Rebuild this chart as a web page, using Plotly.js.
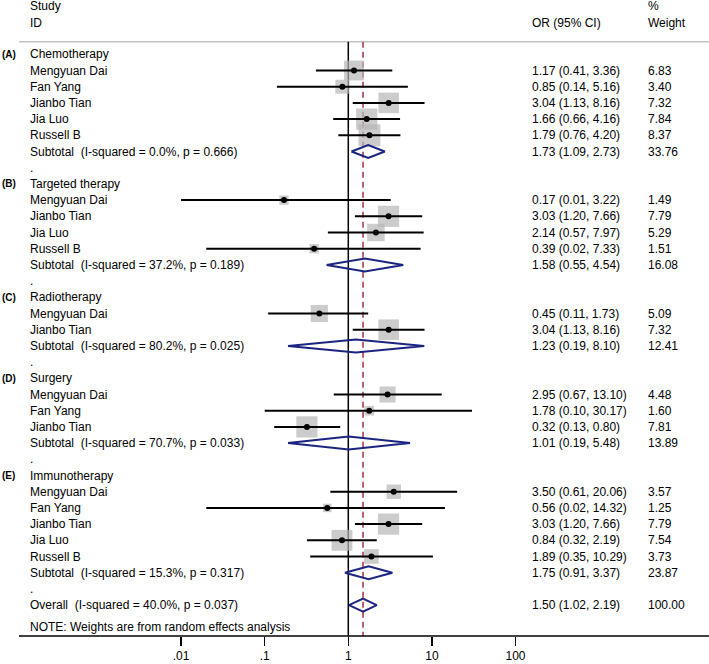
<!DOCTYPE html>
<html>
<head>
<meta charset="utf-8">
<script src="https://cdn.plot.ly/plotly-3.0.1.min.js"></script>
<style>
  html, body { margin: 0; padding: 0; background: #fff; }
  #forest { width: 709px; height: 664px; }
</style>
</head>
<body>
<div id="forest"></div>
<script>
// subgroups
const groupNames = ['Chemotherapy', 'Targeted therapy', 'Radiotherapy', 'Surgery', 'Immunotherapy'];
const groupTags = ['(A)', '(B)', '(C)', '(D)', '(E)'];

// individual studies (group index, name, OR, CI, % weight)
const studyGroup = [0, 0, 0, 0, 0, 1, 1, 1, 1, 2, 2, 3, 3, 3, 4, 4, 4, 4, 4];
const studyNames = ['Mengyuan Dai', 'Fan Yang', 'Jianbo Tian', 'Jia Luo', 'Russell B',
  'Mengyuan Dai', 'Jianbo Tian', 'Jia Luo', 'Russell B',
  'Mengyuan Dai', 'Jianbo Tian',
  'Mengyuan Dai', 'Fan Yang', 'Jianbo Tian',
  'Mengyuan Dai', 'Fan Yang', 'Jianbo Tian', 'Jia Luo', 'Russell B'];
const studyOR = [1.17, 0.85, 3.04, 1.66, 1.79, 0.17, 3.03, 2.14, 0.39, 0.45, 3.04, 2.95, 1.78, 0.32, 3.50, 0.56, 3.03, 0.84, 1.89];
const studyLo = [0.41, 0.14, 1.13, 0.66, 0.76, 0.01, 1.20, 0.57, 0.02, 0.11, 1.13, 0.67, 0.10, 0.13, 0.61, 0.02, 1.20, 0.32, 0.35];
const studyHi = [3.36, 5.16, 8.16, 4.16, 4.20, 3.22, 7.66, 7.97, 7.33, 1.73, 8.16, 13.10, 30.17, 0.80, 20.06, 14.32, 7.66, 2.19, 10.29];
const studyWt = [6.83, 3.40, 7.32, 7.84, 8.37, 1.49, 7.79, 5.29, 1.51, 5.09, 7.32, 4.48, 1.60, 7.81, 3.57, 1.25, 7.79, 7.54, 3.73];

// subtotals
const subOR = [1.73, 1.58, 1.23, 1.01, 1.75];
const subLo = [1.09, 0.55, 0.19, 0.19, 0.91];
const subHi = [2.73, 4.54, 8.10, 5.48, 3.37];
const subWt = [33.76, 16.08, 12.41, 13.89, 23.87];
const subI2 = ['0.0', '37.2', '80.2', '70.7', '15.3'];
const subP = ['0.666', '0.189', '0.025', '0.033', '0.317'];

// overall
const overallOR = 1.50;
const overallCI = [1.02, 2.19];
const overallWt = 100.00;
const overallI2 = '40.0';
const overallP = '0.037';

const tickVals = [0.01, 0.1, 1, 10, 100];
const tickText = ['.01', '.1', '1', '10', '100'];

// ---- layout geometry (pixels) ----
const W = 709, H = 664;
const rowTop = 54.3, rowStep = 16.2;
const axisPx = 636;
const onePx = 348.3, decadePx = 83.6;
const pxToRow = (px) => (px - rowTop) / rowStep;
const xp = (px) => px / W;

const FONT = 'Liberation Sans, Arial, sans-serif';

// ---- assign rows ----
const headerRow = [], subRow = [], dotRow = [], studyRow = [];
let row = 0;
groupNames.forEach((g, gi) => {
  headerRow[gi] = row++;
  studyGroup.forEach((sg, si) => { if (sg === gi) studyRow[si] = row++; });
  subRow[gi] = row++;
  dotRow[gi] = row++;
});
const overallRow = row++;

const fmt = (o, l, h) => `${o.toFixed(2)} (${l.toFixed(2)}, ${h.toFixed(2)})`;

// ---- annotations ----
const ann = [];
function txt(px, r, s, opts) {
  ann.push(Object.assign({
    xref: 'paper', yref: 'y', x: xp(px), y: r, text: s,
    xanchor: 'left', yanchor: 'middle', showarrow: false,
    font: { family: FONT, size: 12, color: '#000' }, borderpad: 0
  }, opts || {}));
}
const colName = 29, colOR = 531, colWt = 647, colTag = 1;

txt(colName, pxToRow(6), 'Study');
txt(colName, pxToRow(23), 'ID');
txt(colOR, pxToRow(23), 'OR (95% CI)');
txt(colWt, pxToRow(6), '%');
txt(colWt, pxToRow(23), 'Weight');

groupNames.forEach((g, gi) => {
  txt(colTag, headerRow[gi], '<b>' + groupTags[gi] + '</b>', { font: { family: FONT, size: 10, color: '#000' } });
  txt(colName, headerRow[gi], g);
  txt(colName, subRow[gi], `Subtotal\u00a0 (I-squared = ${subI2[gi]}%, p = ${subP[gi]})`);
  txt(colOR, subRow[gi], fmt(subOR[gi], subLo[gi], subHi[gi]));
  txt(colWt, subRow[gi], subWt[gi].toFixed(2));
  txt(colName, dotRow[gi], '.');
});
studyNames.forEach((n, i) => {
  txt(colName, studyRow[i], n);
  txt(colOR, studyRow[i], fmt(studyOR[i], studyLo[i], studyHi[i]));
  txt(colWt, studyRow[i], studyWt[i].toFixed(2));
});
txt(colName, overallRow, `Overall\u00a0 (I-squared = ${overallI2}%, p = ${overallP})`);
txt(colOR, overallRow, fmt(overallOR, overallCI[0], overallCI[1]));
txt(colWt, overallRow, overallWt.toFixed(2));
txt(colName, pxToRow(627), 'NOTE: Weights are from random effects analysis');

// ---- traces ----
const boxes = {
  x: studyOR, y: studyRow, type: 'scatter', mode: 'markers',
  marker: { symbol: 'square', size: studyWt.map(w => 7.6 * Math.sqrt(w)), color: '#b7b7b7', line: { width: 0 } }
};
const ciX = [], ciY = [];
studyOR.forEach((o, i) => { ciX.push(studyLo[i], studyHi[i], null); ciY.push(studyRow[i], studyRow[i], null); });
const ciLines = { x: ciX, y: ciY, type: 'scatter', mode: 'lines', line: { color: '#000', width: 2 } };
const dots = { x: studyOR, y: studyRow, type: 'scatter', mode: 'markers', marker: { symbol: 'circle', size: 6, color: '#000' } };

const dh = 0.4;
const dX = [], dY = [];
function diamond(o, l, h, r) {
  dX.push(l, o, h, o, l, null);
  dY.push(r, r - dh, r, r + dh, r, null);
}
subOR.forEach((o, i) => diamond(o, subLo[i], subHi[i], subRow[i]));
diamond(overallOR, overallCI[0], overallCI[1], overallRow);
const diamonds = { x: dX, y: dY, type: 'scatter', mode: 'lines', line: { color: '#1b2581', width: 2 } };

const headRow = pxToRow(41.7);
const bottomRow = pxToRow(axisPx);

const layout = {
  width: W, height: H,
  margin: { l: 0, r: 0, t: 0, b: H - axisPx },
  paper_bgcolor: '#fff', plot_bgcolor: '#fff',
  showlegend: false, hovermode: false,
  font: { family: FONT, size: 12, color: '#000' },
  xaxis: {
    type: 'log',
    range: [-onePx / decadePx, (W - onePx) / decadePx],
    tickvals: tickVals, ticktext: tickText,
    ticks: 'outside', ticklen: 9, tickwidth: 1.5, tickcolor: '#000',
    tickfont: { family: FONT, size: 12, color: '#000' },
    showgrid: false, zeroline: false, showline: false, fixedrange: true
  },
  yaxis: {
    range: [bottomRow, pxToRow(0)],
    showgrid: false, zeroline: false, showline: false, showticklabels: false, ticks: '', fixedrange: true
  },
  shapes: [
    { type: 'line', xref: 'paper', yref: 'y', x0: xp(19), x1: 1, y0: headRow, y1: headRow, line: { color: '#c4c4c4', width: 1.5 }, layer: 'below' },
    { type: 'line', xref: 'x', yref: 'y', x0: 1, x1: 1, y0: headRow, y1: bottomRow, line: { color: '#000', width: 1.5 }, layer: 'below' },
    { type: 'line', xref: 'x', yref: 'y', x0: overallOR, x1: overallOR, y0: headRow, y1: bottomRow, line: { color: '#a8323e', width: 1.5, dash: '6px,4px' }, layer: 'below' },
    { type: 'line', xref: 'paper', yref: 'paper', x0: xp(19), x1: 1, y0: 0, y1: 0, line: { color: '#000', width: 1.5 } }
  ],
  annotations: ann
};

Plotly.newPlot('forest', [boxes, ciLines, dots, diamonds], layout, { staticPlot: true });
</script>
</body>
</html>
